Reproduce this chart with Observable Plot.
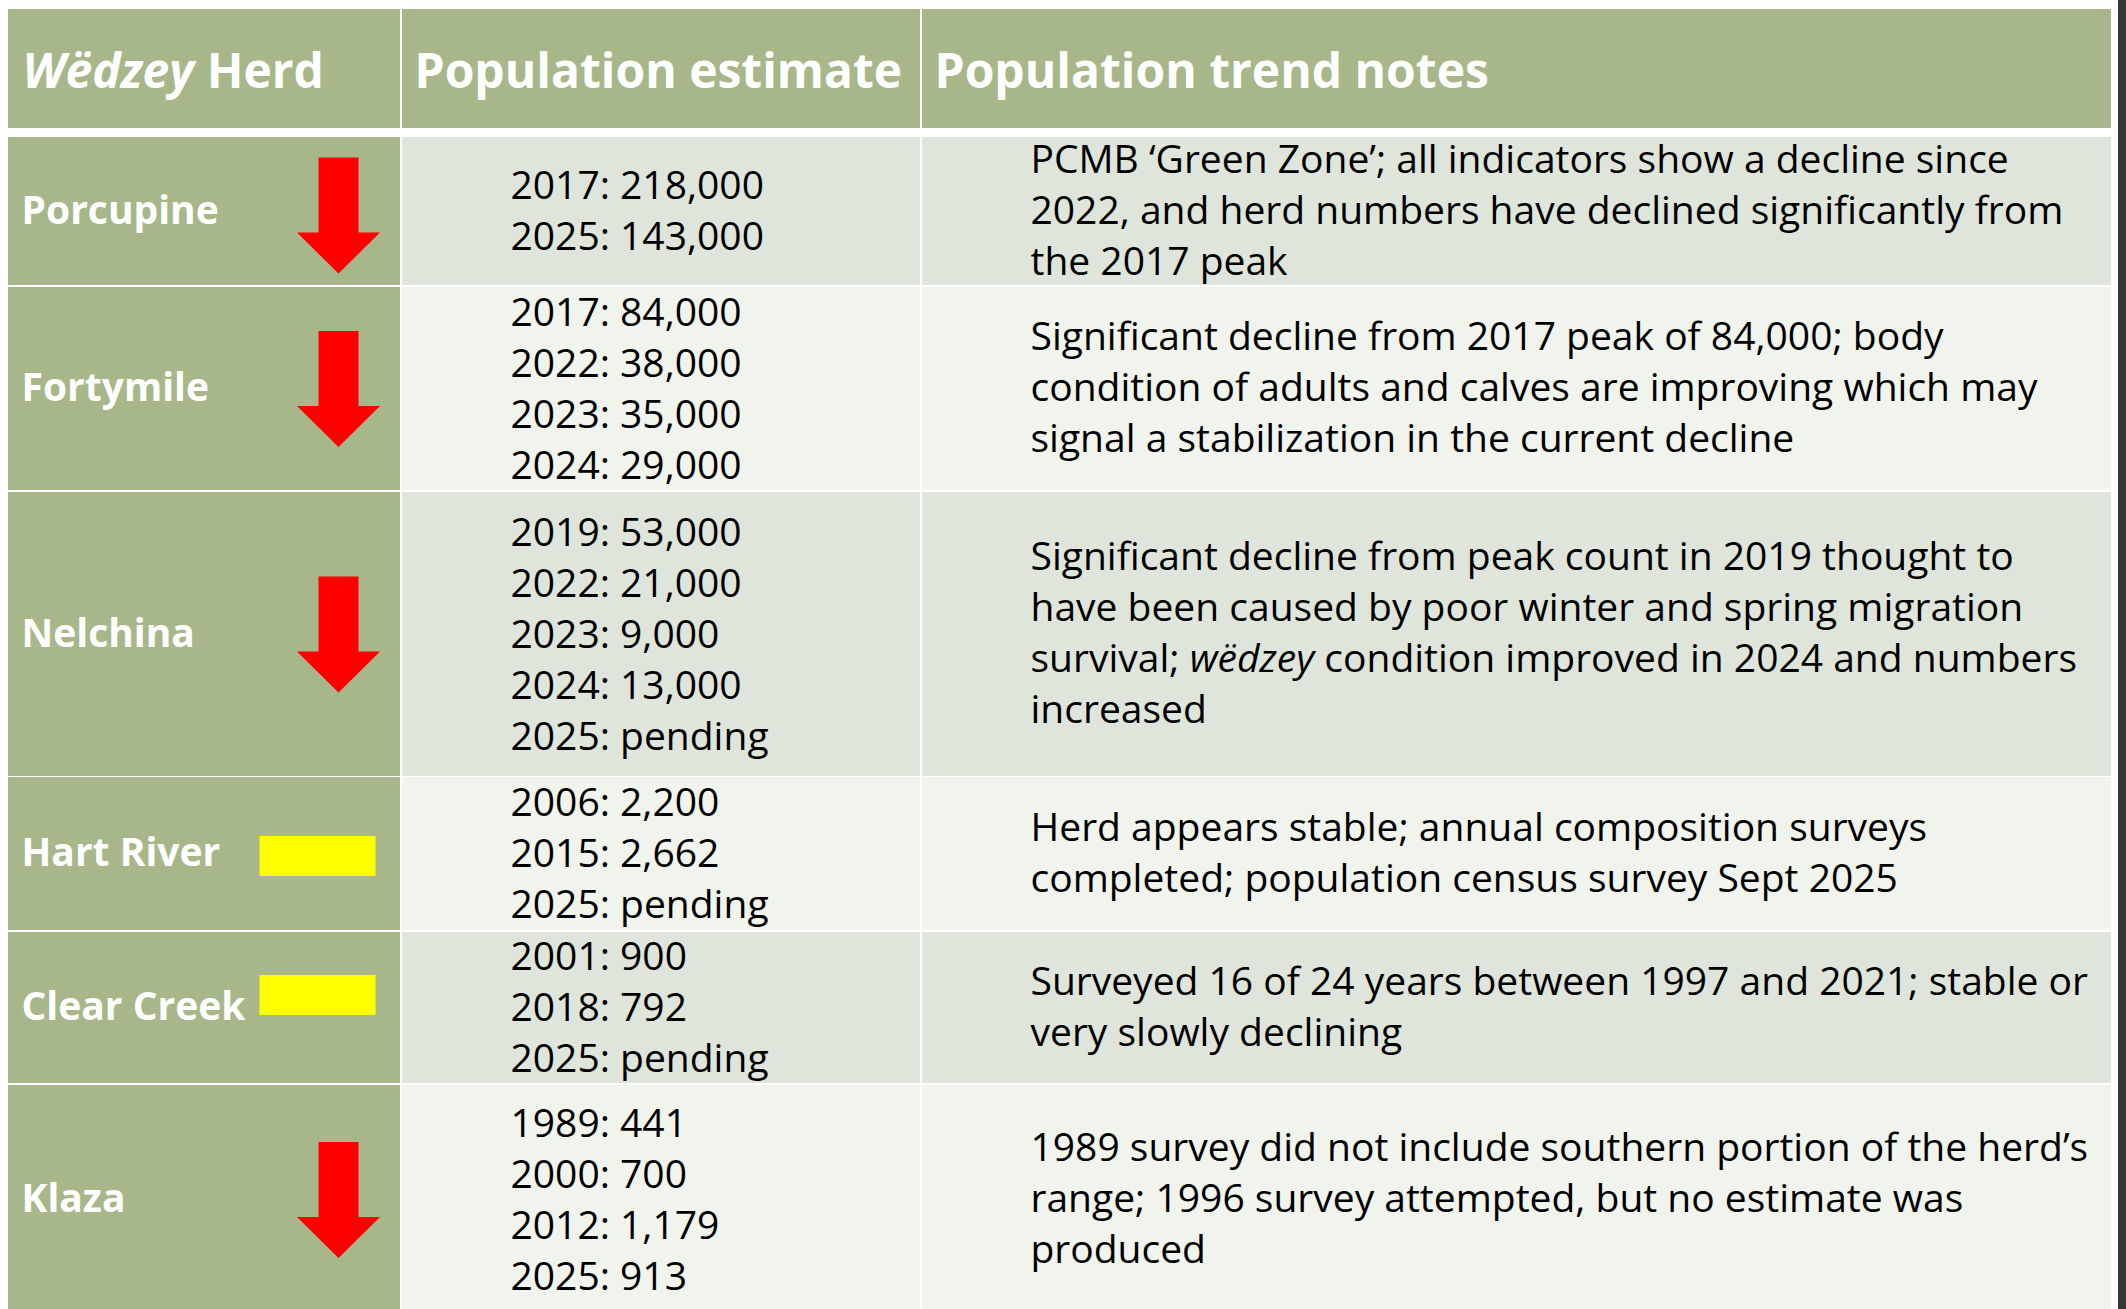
<!DOCTYPE html>
<html>
<head>
<meta charset="utf-8">
<script src="https://cdn.jsdelivr.net/npm/d3@7"></script>
<script src="https://cdn.jsdelivr.net/npm/@observablehq/plot@0.6"></script>
<style>
  html, body { margin: 0; padding: 0; background: #ffffff; }
  #wrap { display: flex; width: 2126px; height: 1309px; overflow: hidden; background: #ffffff; }
  #edge { width: 8px; height: 1309px; background: #363636; flex: none; }
  #chart { flex: none; }
</style>
</head>
<body>
<div id="wrap"><div id="chart"></div><div id="edge"></div></div>
<script>
// ---------------- DATA ----------------
const headers = ["Wëdzey Herd", "Population estimate", "Population trend notes"];
const herds = ["Porcupine", "Fortymile", "Nelchina", "Hart River", "Clear Creek", "Klaza"];
const trends = ["down", "down", "down", "stable", "stable", "down"];
const estimateYears = [
  [2017, 2025],
  [2017, 2022, 2023, 2024],
  [2019, 2022, 2023, 2024, 2025],
  [2006, 2015, 2025],
  [2001, 2018, 2025],
  [1989, 2000, 2012, 2025]
];
const estimateValues = [
  [218000, 143000],
  [84000, 38000, 35000, 29000],
  [53000, 21000, 9000, 13000, "pending"],
  [2200, 2662, "pending"],
  [900, 792, "pending"],
  [441, 700, 1179, 913]
];
const trendNotes = [
  "PCMB ‘Green Zone’; all indicators show a decline since\n2022, and herd numbers have declined significantly from\nthe 2017 peak",
  "Significant decline from 2017 peak of 84,000; body\ncondition of adults and calves are improving which may\nsignal a stabilization in the current decline",
  "Significant decline from peak count in 2019 thought to\nhave been caused by poor winter and spring migration\nsurvival; wëdzey condition improved in 2024 and numbers\nincreased",
  "Herd appears stable; annual composition surveys\ncompleted; population census survey Sept 2025",
  "Surveyed 16 of 24 years between 1997 and 2021; stable or\nvery slowly declining",
  "1989 survey did not include southern portion of the herd’s\nrange; 1996 survey attempted, but no estimate was\nproduced"
];

// ---------------- LAYOUT / STYLE ----------------
const W = 2118, H = 1309;
const colEdges = [[8, 400], [402, 920], [922, 2111]];
const headerBand = [9, 128];
const rowBands = [[137, 285], [287, 490], [492, 776], [777, 930], [932, 1083], [1085, 1314]];
const textPad = [13, 108, 108];
const headerPad = [14, 12, 12];
const markerX = {down: 338, stable: 317};
const markerDy = [4, 0, 0, 2, -13, 0];
const SAGE = "#A7B78A", ROW_DARK = "#DFE5DA", ROW_LIGHT = "#F1F4ED";
const FONT = "Open Sans";
const BODY_SIZE = 39, LINE_H = 51 / 39, HEAD_SIZE = 48;

const fmt = d3.format(",");
const rows = herds.map((h, i) => ({
  herd: h,
  trend: trends[i],
  estimates: estimateYears[i].map((y, k) => `${y}: ${typeof estimateValues[i][k] === "number" ? fmt(estimateValues[i][k]) : estimateValues[i][k]}`).join("\n"),
  notes: trendNotes[i],
  y1: rowBands[i][0],
  y2: rowBands[i][1],
  cy: (rowBands[i][0] + rowBands[i][1]) / 2,
  i
}));

const headerCells = headers.map((t, j) => ({
  text: t, x1: colEdges[j][0], x2: colEdges[j][1], y1: headerBand[0], y2: headerBand[1],
  tx: colEdges[j][0] + headerPad[j], cy: (headerBand[0] + headerBand[1]) / 2
}));

const bodyCells = rows.flatMap(r => colEdges.map((c, j) => ({
  x1: c[0], x2: c[1], y1: r.y1, y2: r.y2,
  fill: j === 0 ? SAGE : (r.i % 2 === 0 ? ROW_DARK : ROW_LIGHT)
})));

// custom symbols
const arrowDown = {
  draw(ctx, size) {
    const r = Math.sqrt(size / Math.PI);
    const hw = 0.716 * r, sw = 0.345 * r, hb = 0.293 * r;
    ctx.moveTo(-sw, -r); ctx.lineTo(sw, -r); ctx.lineTo(sw, hb); ctx.lineTo(hw, hb);
    ctx.lineTo(0, r); ctx.lineTo(-hw, hb); ctx.lineTo(-sw, hb); ctx.closePath();
  }
};
const flatBar = {
  draw(ctx, size) {
    const r = Math.sqrt(size / Math.PI);
    ctx.rect(-r, -0.345 * r, 2 * r, 0.69 * r);
  }
};

const chart = Plot.plot({
  width: W,
  height: H,
  margin: 0,
  x: {type: "linear", domain: [0, W], range: [0, W], axis: null},
  y: {type: "linear", domain: [0, H], range: [0, H], axis: null},
  color: {type: "identity"},
  style: {background: "#ffffff", fontFamily: FONT},
  marks: [
    Plot.rect(headerCells, {x1: "x1", x2: "x2", y1: "y1", y2: "y2", fill: SAGE}),
    Plot.rect(bodyCells, {x1: "x1", x2: "x2", y1: "y1", y2: "y2", fill: "fill"}),
    Plot.text(headerCells, {x: "tx", y: "cy", text: "text", textAnchor: "start", dy: 4,
      fill: "#ffffff", fontSize: HEAD_SIZE, fontWeight: 700, fontFamily: FONT}),
    Plot.text(rows, {x: colEdges[0][0] + textPad[0], y: "cy", text: "herd", textAnchor: "start",
      fill: "#ffffff", fontSize: BODY_SIZE, fontWeight: 700, fontFamily: FONT}),
    Plot.text(rows, {x: colEdges[1][0] + textPad[1], y: "cy", text: "estimates", textAnchor: "start", dy: -3,
      fill: "#000000", fontSize: BODY_SIZE, lineHeight: LINE_H, fontFamily: FONT}),
    Plot.text(rows, {x: colEdges[2][0] + textPad[2], y: "cy", text: "notes", textAnchor: "start", dy: -4,
      fill: "#000000", fontSize: BODY_SIZE, lineHeight: LINE_H, fontFamily: FONT}),
    Plot.dot(rows.filter(d => d.trend === "down"), {x: d => markerX.down, y: d => d.cy + markerDy[d.i],
      r: 58, symbol: arrowDown, fill: "#FF0000", stroke: "none"}),
    Plot.dot(rows.filter(d => d.trend === "stable"), {x: d => markerX.stable, y: d => d.cy + markerDy[d.i],
      r: 58, symbol: flatBar, fill: "#FFFF00", stroke: "none"})
  ]
});

// italicize the word "wëdzey" wherever it appears
(function italicize(svg) {
  const walker = document.createTreeWalker(svg, NodeFilter.SHOW_TEXT);
  const nodes = [];
  while (walker.nextNode()) nodes.push(walker.currentNode);
  for (const n of nodes) {
    const m = n.nodeValue.match(/wëdzey/i);
    if (!m) continue;
    const before = n.nodeValue.slice(0, m.index);
    const word = m[0];
    const after = n.nodeValue.slice(m.index + word.length);
    const parent = n.parentNode;
    const t = document.createElementNS("http://www.w3.org/2000/svg", "tspan");
    t.setAttribute("font-style", "italic");
    t.textContent = word;
    if (before) parent.insertBefore(document.createTextNode(before), n);
    parent.insertBefore(t, n);
    if (after) parent.insertBefore(document.createTextNode(after), n);
    parent.removeChild(n);
  }
})(chart);

document.getElementById("chart").appendChild(chart);
</script>
</body>
</html>
